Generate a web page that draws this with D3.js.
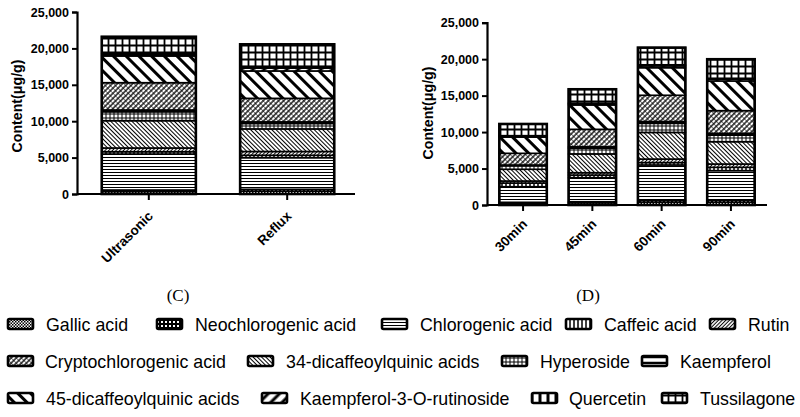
<!DOCTYPE html>
<html>
<head>
<meta charset="utf-8">
<script src="https://cdn.jsdelivr.net/npm/d3@7"></script>
<style>
  body { margin: 0; background: #fff; }
  svg { display: block; }
</style>
</head>
<body>
<svg id="chart" width="800" height="417"></svg>
<script>
// compounds in legend order
var compounds = ["Gallic acid", "Neochlorogenic acid", "Chlorogenic acid", "Caffeic acid", "Rutin",
  "Cryptochlorogenic acid", "34-dicaffeoylquinic acids", "Hyperoside", "Kaempferol",
  "45-dicaffeoylquinic acids", "Kaempferol-3-O-rutinoside", "Quercetin", "Tussilagone"];

// order of the segments from the bottom of each bar
var stackOrder = ["Gallic acid", "Neochlorogenic acid", "Chlorogenic acid", "Caffeic acid", "Rutin",
  "34-dicaffeoylquinic acids", "Hyperoside", "Kaempferol", "Cryptochlorogenic acid",
  "45-dicaffeoylquinic acids", "Kaempferol-3-O-rutinoside", "Quercetin", "Tussilagone"];

var methodCats = ["Ultrasonic", "Reflux"];
var timeCats = ["30min", "45min", "60min", "90min"];

// content (ug/g), same order as compounds
var ultrasonic = [350, 200, 4940, 320, 510, 3750, 3750, 1230, 240, 3670, 220, 150, 2270];
var reflux     = [400, 250, 4340, 330, 520, 3230, 3100, 750, 220, 3760, 400, 190, 3070];
var min30      = [250, 120, 2140, 500, 280, 1600, 1610, 500, 90, 2220, 120, 80, 1600];
var min45      = [300, 150, 3300, 350, 330, 2400, 2570, 780, 200, 3340, 150, 100, 1900];
var min60      = [400, 250, 4840, 330, 480, 3600, 3650, 1250, 250, 3780, 250, 150, 2350];
var min90      = [400, 290, 4020, 460, 450, 3110, 3060, 900, 250, 4070, 250, 120, 2610];

var yTicks = [0, 5000, 10000, 15000, 20000, 25000];

var svg = d3.select("#chart");
var defs = svg.append("defs");

// ---- fill patterns ----
function linePattern(id, size, width, angle, horizontal) {
  var p = defs.append("pattern")
    .attr("id", id)
    .attr("patternUnits", "userSpaceOnUse")
    .attr("width", size).attr("height", size);
  if (angle) p.attr("patternTransform", "rotate(" + angle + ")");
  p.append("rect").attr("width", size).attr("height", size).attr("fill", "#fff");
  if (horizontal) {
    p.append("line").attr("x1", 0).attr("x2", size).attr("y1", size / 2).attr("y2", size / 2)
      .attr("stroke", "#000").attr("stroke-width", width);
  } else {
    p.append("line").attr("y1", 0).attr("y2", size).attr("x1", size / 2).attr("x2", size / 2)
      .attr("stroke", "#000").attr("stroke-width", width);
  }
  return p;
}
function gridPattern(id, size, width) {
  var p = defs.append("pattern")
    .attr("id", id)
    .attr("patternUnits", "userSpaceOnUse")
    .attr("width", size).attr("height", size);
  p.append("rect").attr("width", size).attr("height", size).attr("fill", "#fff");
  p.append("path").attr("d", "M0," + size / 2 + "H" + size + "M" + size / 2 + ",0V" + size)
    .attr("stroke", "#000").attr("stroke-width", width);
  return p;
}

var pg = defs.append("pattern").attr("id", "p0").attr("patternUnits", "userSpaceOnUse")
  .attr("width", 3).attr("height", 3);
pg.append("rect").attr("width", 3).attr("height", 3).attr("fill", "#fff");
pg.append("rect").attr("width", 1.5).attr("height", 1.5).attr("fill", "#000");
pg.append("rect").attr("x", 1.5).attr("y", 1.5).attr("width", 1.5).attr("height", 1.5).attr("fill", "#000");

var pn = defs.append("pattern").attr("id", "p1").attr("patternUnits", "userSpaceOnUse")
  .attr("width", 4).attr("height", 4);
pn.append("rect").attr("width", 4).attr("height", 4).attr("fill", "#000");
pn.append("rect").attr("x", 1).attr("y", 1).attr("width", 2).attr("height", 2).attr("fill", "#fff");

linePattern("p2", 3, 1, 0, true);          // chlorogenic
linePattern("p3", 4, 1.5, 0, false);       // caffeic
linePattern("p4", 2.6, 1, 45, false);      // rutin
var pc = linePattern("p5", 3.6, 1.3, 45, false);  // cryptochlorogenic
pc.append("line").attr("x1", 0).attr("x2", 3.6).attr("y1", 0.3).attr("y2", 0.3)
  .attr("stroke", "#000").attr("stroke-width", 0.6);
linePattern("p6", 3, 1, -45, false);       // 34-dicaffeoyl
gridPattern("p7", 4, 1);                   // hyperoside
linePattern("p8", 6, 2.5, 0, true);        // kaempferol
linePattern("p9", 9, 3, -45, false);       // 45-dicaffeoyl
linePattern("p10", 8, 3, 45, false);       // kaempferol-3-O-rutinoside
linePattern("p11", 8, 3, 0, false);        // quercetin
gridPattern("p12", 7, 1.8);                // tussilagone

function fillOf(name) { return "url(#p" + compounds.indexOf(name) + ")"; }

function makeRows(cats, series) {
  return cats.map(function (c, i) {
    var row = { cat: c };
    compounds.forEach(function (k, j) { row[k] = series[i][j]; });
    return row;
  });
}

var stack = d3.stack().keys(stackOrder);

function drawPanel(cats, rows, o) {
  var x = d3.scaleBand().domain(cats).range(o.xRange)
    .paddingInner(o.padInner).paddingOuter(o.padOuter);
  var y = d3.scaleLinear().domain([0, 25000]).range([o.yBottom, o.yTop]);

  var g = svg.append("g");
  var layers = stack(rows);

  g.selectAll(".layer")
    .data(layers)
    .enter().append("g")
    .attr("class", "layer")
    .attr("fill", function (d) { return fillOf(d.key); })
    .selectAll("rect")
    .data(function (d) { return d; })
    .enter().append("rect")
    .attr("x", function (d) { return x(d.data.cat); })
    .attr("y", function (d) { return y(d[1]); })
    .attr("width", x.bandwidth())
    .attr("height", function (d) { return y(d[0]) - y(d[1]); })
    .attr("stroke", "#000")
    .attr("stroke-width", 1.6);

  // outer outline of each bar
  g.selectAll(".outline")
    .data(rows)
    .enter().append("rect")
    .attr("class", "outline")
    .attr("x", function (d) { return x(d.cat); })
    .attr("y", function (d) { return y(d3.sum(stackOrder, function (k) { return d[k]; })); })
    .attr("width", x.bandwidth())
    .attr("height", function (d) { return y(0) - y(d3.sum(stackOrder, function (k) { return d[k]; })); })
    .attr("fill", "none")
    .attr("stroke", "#000")
    .attr("stroke-width", 2.6);

  // y axis
  var ya = g.append("g")
    .attr("transform", "translate(" + o.axisX0 + ",0)")
    .call(d3.axisLeft(y).tickValues(yTicks).tickFormat(d3.format(",")).tickSize(5).tickPadding(3));
  ya.select(".domain").attr("stroke-width", 2.2);
  ya.selectAll(".tick line").attr("stroke-width", 2);
  ya.selectAll("text")
    .attr("font-family", "Liberation Sans, Arial, sans-serif")
    .attr("font-weight", "bold")
    .attr("font-size", 12.5)
    .attr("fill", "#000");

  // x axis
  var xa = g.append("g")
    .attr("transform", "translate(0," + o.yBottom + ")")
    .call(d3.axisBottom(x).tickSize(6).tickSizeOuter(0));
  xa.select(".domain").remove();
  xa.append("line")
    .attr("x1", o.axisX0).attr("x2", o.axisX1)
    .attr("stroke", "#000").attr("stroke-width", 2.2);
  xa.selectAll(".tick line").attr("stroke-width", 2);
  xa.selectAll(".tick text")
    .attr("font-family", "Liberation Sans, Arial, sans-serif")
    .attr("font-weight", "bold")
    .attr("font-size", 13.5)
    .attr("fill", "#000")
    .attr("text-anchor", "end")
    .attr("y", 0).attr("dy", 0)
    .attr("transform", "translate(5," + o.labelDrop + ") rotate(-45)");

  // y title
  g.append("text")
    .attr("transform", "translate(" + o.titleX + "," + o.titleY + ") rotate(-90)")
    .attr("text-anchor", "middle")
    .attr("font-family", "Liberation Sans, Arial, sans-serif")
    .attr("font-weight", "bold")
    .attr("font-size", 14.2)
    .text("Content(\u03bcg/g)");

  // caption
  g.append("text")
    .attr("x", o.capX).attr("y", 301)
    .attr("text-anchor", "middle")
    .attr("font-family", "Liberation Serif, Times New Roman, serif")
    .attr("font-size", 17)
    .text(o.caption);
}

drawPanel(methodCats, makeRows(methodCats, [ultrasonic, reflux]), {
  xRange: [81, 355], padInner: 0.32, padOuter: 0.15,
  yBottom: 194, yTop: 12, axisX0: 77, axisX1: 355,
  labelDrop: 23, titleX: 22, titleY: 106, capX: 178, caption: "(C)"
});

drawPanel(timeCats, makeRows(timeCats, [min30, min45, min60, min90]), {
  xRange: [487, 767], padInner: 0.315, padOuter: 0.178,
  yBottom: 205, yTop: 22.7, axisX0: 487, axisX1: 767,
  labelDrop: 20, titleX: 433, titleY: 113, capX: 588, caption: "(D)"
});

// ---- legend ----
var legendRows = [
  [["Gallic acid", 8, 46], ["Neochlorogenic acid", 157, 195], ["Chlorogenic acid", 382, 420],
   ["Caffeic acid", 566, 604], ["Rutin", 710, 748]],
  [["Cryptochlorogenic acid", 8, 45], ["34-dicaffeoylquinic acids", 248, 286],
   ["Hyperoside", 502, 540], ["Kaempferol", 642, 680]],
  [["45-dicaffeoylquinic acids", 8, 46], ["Kaempferol-3-O-rutinoside", 262, 300],
   ["Quercetin", 532, 569], ["Tussilagone", 662, 700]]
];
var legendY = [324, 361, 398];

var legend = svg.append("g");
legendRows.forEach(function (row, r) {
  var items = legend.selectAll(".row" + r)
    .data(row)
    .enter().append("g")
    .attr("class", "row" + r);
  items.append("rect")
    .attr("x", function (d) { return d[1]; })
    .attr("y", legendY[r] - 5)
    .attr("width", 25).attr("height", 10)
    .attr("rx", 1.5)
    .attr("fill", function (d) { return fillOf(d[0]); })
    .attr("stroke", "#000").attr("stroke-width", 2.6);
  items.append("text")
    .attr("x", function (d) { return d[2]; })
    .attr("y", legendY[r] + 6.5)
    .attr("font-family", "Liberation Sans, Arial, sans-serif")
    .attr("font-size", 17.8)
    .text(function (d) { return d[0]; });
});
</script>
</body>
</html>
